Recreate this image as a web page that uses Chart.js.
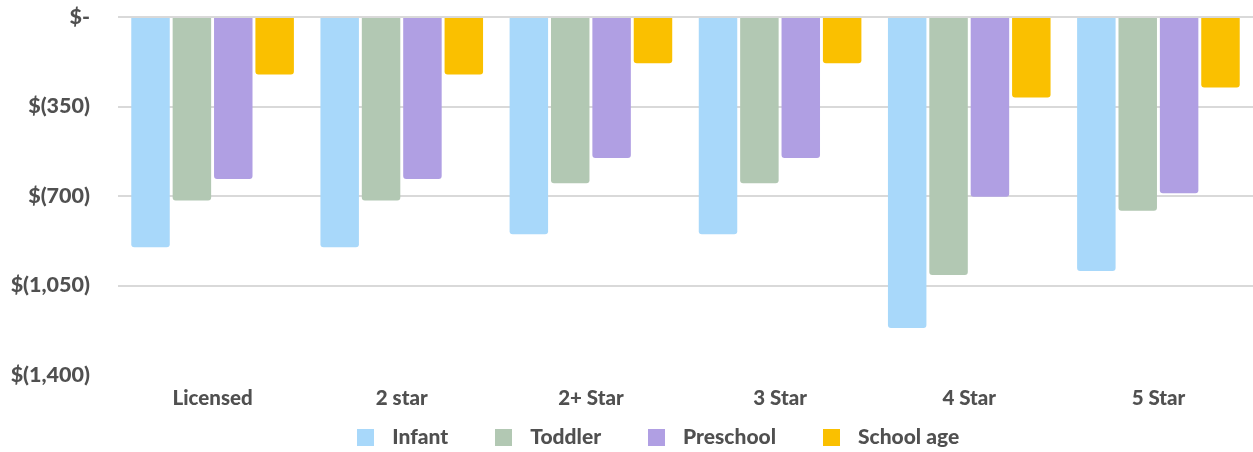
<!DOCTYPE html>
<html>
<head>
<meta charset="utf-8">
<script src="https://cdn.jsdelivr.net/npm/chart.js@4/dist/chart.umd.min.js"></script>
<style>
html,body{margin:0;padding:0;background:#fff;}
#wrap{width:1253px;height:452px;position:relative;}
</style>
</head>
<body>
<div id="wrap"><canvas id="c"></canvas></div>
<script>
const categories = ['Licensed', '2 star', '2+ Star', '3 Star', '4 Star', '5 Star'];
const infant    = [-900, -900, -850, -850, -1216, -993];
const toddler   = [-718, -718, -650, -650, -1009, -758];
const preschool = [-634, -634, -551, -551, -703, -689];
const schoolAge = [-225, -225, -181, -181, -315, -276];
const seriesNames = ['Infant', 'Toddler', 'Preschool', 'School age'];
const seriesColors = ['#A8D8FA', '#B2C8B3', '#B09FE3', '#FAC000'];
const yTicks = [0, -350, -700, -1050, -1400];

const fontFamily = 'Lato, "Open Sans", sans-serif';
const textColor = '#505050';
const allSeries = [infant, toddler, preschool, schoolAge];

function makeSwatch(color) {
  const c = document.createElement('canvas');
  c.width = 17; c.height = 17;
  const g = c.getContext('2d');
  g.fillStyle = color;
  g.fillRect(0, 0, 17, 17);
  return c;
}
const swatches = seriesColors.map(makeSwatch);

const legendTweak = {
  id: 'legendTweak',
  beforeInit(chart) {
    const lg = chart.legend;
    const fit = lg.fit;
    lg.fit = function () { fit.call(this); this.height = 42; };
    const draw = lg.draw;
    lg.draw = function () {
      const ctx = this.ctx;
      const b = this.bottom;
      this.bottom = b + 80;
      ctx.save();
      ctx.translate(28, -22.5);
      draw.call(this);
      ctx.restore();
      this.bottom = b;
    };
  }
};

new Chart(document.getElementById('c'), {
  type: 'bar',
  data: {
    labels: categories,
    datasets: allSeries.map((d, i) => ({
      label: seriesNames[i],
      data: d,
      backgroundColor: seriesColors[i],
      borderRadius: 3,
      categoryPercentage: 0.875,
      barPercentage: 0.93
    }))
  },
  plugins: [legendTweak],
  options: {
    responsive: true,
    maintainAspectRatio: false,
    animation: false,
    layout: { padding: { top: 17, left: 0, right: 0, bottom: 0 } },
    plugins: {
      tooltip: { enabled: false },
      legend: {
        position: 'bottom',
        labels: {
          usePointStyle: true,
          pointStyleWidth: 32,
          boxWidth: 17,
          boxHeight: 17,
          padding: 39.5,
          color: textColor,
          font: { family: fontFamily, size: 21, weight: '900' },
          generateLabels(chart) {
            const items = Chart.defaults.plugins.legend.labels.generateLabels(chart);
            items.forEach((it, i) => { it.pointStyle = swatches[i]; });
            return items;
          }
        }
      }
    },
    scales: {
      x: {
        afterFit: (axis) => { axis.height = 35; },
        grid: { display: false, drawTicks: false },
        border: { display: false },
        ticks: {
          padding: 11,
          color: textColor,
          font: { family: fontFamily, size: 20.5, weight: '900' }
        }
      },
      y: {
        min: yTicks[yTicks.length - 1],
        max: yTicks[0],
        afterBuildTicks: (axis) => { axis.ticks = yTicks.map(v => ({ value: v })); },
        afterFit: (axis) => { axis.width = 118; },
        border: { display: false },
        grid: {
          drawTicks: true,
          tickLength: 28,
          tickColor: 'rgba(0,0,0,0)',
          lineWidth: 2,
          color: (ctx) => (ctx.tick && ctx.tick.value === yTicks[yTicks.length - 1]) ? 'rgba(0,0,0,0)' : '#d9d9d9'
        },
        ticks: {
          padding: 0,
          color: textColor,
          font: { family: fontFamily, size: 21.5, weight: '900' },
          callback: (v) => v === 0 ? '$-' : '$(' + Math.abs(v).toLocaleString('en-US') + ')'
        }
      }
    }
  }
});
</script>
</body>
</html>
